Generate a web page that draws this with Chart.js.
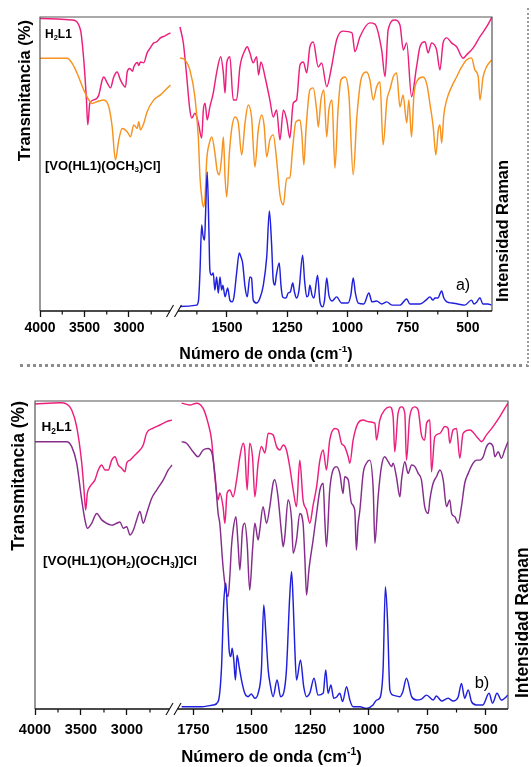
<!DOCTYPE html>
<html>
<head>
<meta charset="utf-8">
<script src="https://cdn.jsdelivr.net/npm/chart.js@4/dist/chart.umd.min.js"></script>
<style>
  html, body { margin: 0; padding: 0; background: #fff; }
  body { width: 531px; height: 767px; position: relative; overflow: hidden; }
  canvas { position: absolute; left: 0; }
  #panelA { top: 0; }
  #panelB { top: 380px; }
  .frame-a { position: absolute; left: 20px; top: 8px; width: 507px; height: 356px;
             border-right: 2px dotted #9a9a9a; border-bottom: 3px dotted #8c8c8c; }
</style>
</head>
<body>
<div class="frame-a"></div>
<canvas id="panelA" width="531" height="365"></canvas>
<canvas id="panelB" width="531" height="387"></canvas>
<script>
const FONT = '"Liberation Sans", Arial, Helvetica, sans-serif';
const PINK = '#ec1f7d';
const ORANGE = '#f7931e';
const PURPLE = '#852d8c';
const BLUE = '#2020dc';

// ---- a) H2L1 and [VO(HL1)(OCH3)Cl] ----
// [wavenumber cm-1, transmittance / intensity (arbitrary, 0-100)]
const ligandHighA = [[4000,99.5],[3638,99],[3545,95.6],[3508,85.4],[3478,71.8],[3463,63.3],[3440,70.7],[3396,71.8],[3339,73.5],[3301,78.6],[3283,79.6],[3245,77.6],[3208,75.9],[3171,79.6],[3133,81.3],[3096,78.6],[3039,76.2],[3020,81.3],[2990,82.5],[2960,81.5],[2946,83],[2905,84.5],[2890,83.5],[2871,84.7],[2834,84.4],[2796,87.8],[2760,89.5],[2721,91.2],[2690,91.5],[2646,92.9],[2600,93.5],[2534,94.6]];
const complexHighA = [[4000,86],[3694,86],[3638,84.2],[3582,80.8],[3508,75.2],[3452,71.8],[3414,70.6],[3357,71.2],[3283,71.8],[3227,69.5],[3189,62.7],[3152,51.4],[3114,58.2],[3077,62.1],[3020,61],[2983,59.3],[2946,63.3],[2908,62.1],[2890,64.4],[2871,61.6],[2834,63.8],[2796,67.8],[2721,71.8],[2646,73.5],[2534,76.9]];
const ligandLowA = [[1695,96.6],[1681,91.1],[1667,79.7],[1654,68.4],[1646,65.6],[1633,67.3],[1619,64.0],[1605,58.8],[1598,68.4],[1591,70.7],[1582,65.0],[1571,69.4],[1557,74.1],[1543,81.0],[1526,86.5],[1515,81.0],[1508,74.1],[1501,84.4],[1488,86.5],[1474,71.8],[1460,71.8],[1446,83.1],[1425,88.8],[1416,89.9],[1405,87.8],[1391,84.4],[1377,86.5],[1369,80.3],[1359,84.7],[1342,79.6],[1322,71.8],[1308,66.0],[1294,68.4],[1280,58.2],[1266,68.4],[1252,65.0],[1239,58.8],[1225,70.7],[1211,71.8],[1197,83.7],[1183,84.7],[1169,81.0],[1156,89.8],[1142,91.5],[1121,83.0],[1107,84.4],[1086,76.3],[1066,83.0],[1045,92.2],[1019,95.2],[981,94.6],[969,88.2],[948,93.3],[907,98.0],[886,97.6],[858,88.8],[844,79.7],[831,95.6],[803,99.0],[782,97.3],[768,88.8],[754,91.2],[734,72.9],[713,83.1],[699,89.9],[678,91.6],[665,87.8],[651,91.2],[630,88.8],[616,82.0],[603,91.2],[588,92.9],[568,91.2],[547,89.9],[520,86.0],[506,87.1],[478,89.5],[450,93.3],[422,96.7],[400,100]];
const complexLowA = [[1695,86.1],[1674,85.4],[1654,82.0],[1633,72.8],[1619,59.2],[1612,45.6],[1605,38.8],[1598,35.4],[1591,38.8],[1584,51.4],[1573,57.1],[1563,59.2],[1550,53.7],[1541,47.9],[1532,46.3],[1522,52.4],[1515,59.2],[1508,45.6],[1501,38.8],[1490,53.7],[1480,62.2],[1467,66.0],[1453,64.0],[1439,53.1],[1425,64.0],[1412,70.1],[1398,66.0],[1384,49.0],[1370,61.6],[1356,66.7],[1346,63.3],[1335,52.4],[1322,58.2],[1308,59.9],[1294,51.4],[1280,39.5],[1266,36.1],[1252,45.2],[1239,45.2],[1228,54.8],[1214,64.3],[1197,65.0],[1189,59.9],[1181,49.7],[1172,61.6],[1156,75.2],[1142,75.9],[1128,68.4],[1121,62.6],[1110,71.8],[1098,75.2],[1086,59.2],[1077,68.4],[1064,71.8],[1052,48.6],[1039,68.4],[1027,78.6],[1010,79.6],[994,73.5],[976,46.3],[961,66.0],[941,79.6],[920,81.3],[907,78.6],[893,71.8],[879,76.2],[865,77.9],[852,56.5],[836,71.8],[824,75.2],[810,79.6],[796,81.0],[782,69.4],[769,73.5],[754,64.0],[745,71.8],[734,59.2],[724,73.5],[708,78.6],[686,79.6],[670,76.9],[658,70.7],[644,62.6],[633,53.1],[623,61.6],[616,63.3],[609,57.1],[600,66.7],[588,71.8],[568,76.2],[547,79.6],[526,83.0],[506,85.4],[485,86.1],[471,82.0],[457,79.6],[450,71.8],[437,79.6],[423,83.0],[402,85.4]];
const ramanA = [[1695,1.5],[1626,2.0],[1618,3.7],[1612,13.3],[1605,29.3],[1600,25.9],[1593,24.1],[1589,32.7],[1582,47.3],[1575,27.6],[1571,13.9],[1564,12.2],[1557,12.9],[1550,7.1],[1543,11.6],[1536,6.1],[1529,11.6],[1522,7.1],[1517,8.8],[1508,4.8],[1497,7.8],[1488,3.7],[1479,3.1],[1471,4.8],[1460,12.9],[1449,19.7],[1442,18.4],[1435,16.3],[1425,8.2],[1416,4.8],[1405,11.6],[1398,11.2],[1391,3.7],[1377,2.7],[1363,4.4],[1349,8.8],[1335,18.4],[1324,34.0],[1315,23.1],[1308,10.5],[1301,8.8],[1295,12.2],[1283,16.3],[1276,8.8],[1269,4.8],[1255,4.4],[1246,6.1],[1237,6.5],[1227,9.5],[1220,6.5],[1211,4.4],[1201,7.1],[1186,19.0],[1178,10.5],[1169,4.8],[1162,5.4],[1156,8.8],[1147,5.4],[1139,4.4],[1124,12.2],[1114,3.1],[1103,1.4],[1095,3.7],[1086,11.2],[1077,5.4],[1064,3.4],[1045,4.8],[1024,2.7],[998,2.7],[986,5.4],[976,11.2],[967,6.1],[955,2.7],[932,2.4],[911,6.1],[898,3.1],[879,3.4],[857,2.4],[837,3.1],[815,2.0],[782,2.0],[754,4.1],[741,2.4],[699,2.4],[674,3.7],[658,4.8],[645,3.7],[637,4.4],[625,4.4],[609,6.8],[600,4.4],[587,3.1],[566,2.7],[542,2.4],[513,2.0],[485,3.7],[475,2.4],[463,3.1],[450,4.5],[438,2.4],[417,2.4],[402,2.0]];

// ---- b) H2L1 and [VO(HL1)(OH2)(OCH3)]Cl ----
const ligandHighB = [[4000,99],[3728,99.4],[3655,99.0],[3601,97.1],[3547,91.7],[3492,79.9],[3467,71.1],[3449,64.6],[3431,70.1],[3402,72.2],[3348,74.4],[3312,77.6],[3275,79.2],[3239,77.6],[3203,77.6],[3166,80.8],[3130,81.9],[3095,79.2],[3058,78.2],[3022,77.0],[3003,79.9],[2967,80.8],[2913,82.5],[2877,83.5],[2823,85.7],[2786,89.6],[2714,91.2],[2641,92.2],[2568,93.3],[2510,93.8]];
const complexHighB = [[4000,86.8],[3655,86.8],[3601,85.2],[3547,79.9],[3492,67.9],[3457,61.4],[3431,58.7],[3384,60.3],[3329,63.5],[3275,61.4],[3221,60.3],[3166,59.7],[3112,60.3],[3076,60.7],[3040,58.7],[3003,59.2],[2967,56.5],[2930,58.1],[2895,61.4],[2859,64.1],[2823,60.3],[2786,63.5],[2731,68.4],[2677,71.1],[2605,74.4],[2551,77.6],[2510,79.2]];
const ligandLowB = [[1800,99.3],[1765,98.7],[1736,99.3],[1708,97.6],[1687,92.8],[1672,87.3],[1658,75.4],[1644,67.9],[1637,70.1],[1623,65.7],[1615,60.3],[1606,70.0],[1594,71.1],[1580,68.9],[1565,74.4],[1551,81.9],[1537,86.3],[1530,84.1],[1520,71.1],[1509,86.3],[1497,81.9],[1487,68.9],[1473,79.8],[1459,85.2],[1444,83.1],[1430,89.5],[1409,89.0],[1394,85.2],[1380,84.1],[1366,85.7],[1352,84.1],[1338,78.7],[1323,71.1],[1309,65.7],[1295,80.8],[1281,67.9],[1266,64.6],[1252,60.3],[1238,66.2],[1223,72.2],[1209,80.8],[1195,84.1],[1181,77.6],[1167,87.3],[1145,91.1],[1131,90.6],[1117,86.3],[1103,85.2],[1088,81.9],[1081,79.8],[1067,87.3],[1046,92.8],[1024,93.8],[1003,93.3],[974,92.8],[967,87.3],[953,93.8],[932,97.1],[910,98.1],[896,94.9],[889,83.5],[875,96.0],[860,98.1],[846,96.0],[839,80.8],[825,94.9],[803,98.1],[789,97.1],[775,89.0],[761,87.3],[753,92.8],[739,93.8],[732,77.0],[718,88.4],[696,89.5],[675,91.7],[661,91.1],[654,86.3],[640,90.6],[625,91.1],[611,81.4],[597,89.5],[568,90.6],[533,87.9],[518,86.8],[497,89.0],[469,91.7],[440,94.9],[419,97.6],[405,99.3]];
const complexLowB = [[1800,86.8],[1779,86.3],[1751,83.5],[1730,81.9],[1708,84.1],[1687,84.6],[1672,83.5],[1658,76.5],[1644,63.5],[1637,60.3],[1623,46.2],[1611,38.6],[1601,36.5],[1594,43.0],[1587,52.7],[1580,58.1],[1568,62.4],[1559,53.8],[1551,45.1],[1540,58.1],[1530,60.3],[1520,53.8],[1509,38.6],[1497,51.6],[1487,60.3],[1473,54.9],[1466,58.1],[1452,65.7],[1437,60.3],[1423,65.7],[1409,73.3],[1402,74.4],[1388,68.9],[1373,57.0],[1366,52.7],[1359,55.9],[1345,67.9],[1330,61.4],[1323,50.6],[1309,54.9],[1295,63.5],[1281,60.3],[1273,48.4],[1266,37.0],[1256,45.1],[1238,54.9],[1223,63.5],[1209,71.1],[1195,73.3],[1188,61.4],[1181,52.7],[1167,71.1],[1153,77.6],[1138,78.7],[1124,76.5],[1110,70.0],[1103,75.4],[1088,74.4],[1074,66.8],[1060,64.6],[1053,51.6],[1046,59.7],[1038,64.6],[1024,76.5],[1010,79.8],[996,80.8],[981,71.1],[974,53.8],[960,68.9],[946,78.7],[932,81.9],[917,80.3],[903,78.7],[896,79.8],[882,75.4],[867,68.9],[860,74.4],[846,80.3],[832,76.5],[817,79.2],[803,78.7],[789,76.5],[775,74.4],[761,65.7],[746,63.5],[739,67.9],[725,73.3],[711,75.4],[696,77.6],[682,74.4],[668,65.7],[654,67.9],[646,63.5],[632,62.4],[618,60.3],[604,65.7],[590,73.3],[575,76.5],[554,79.8],[540,80.8],[525,80.8],[511,81.9],[497,85.2],[483,86.3],[469,85.2],[461,81.9],[447,83.5],[433,81.4],[419,84.1],[405,86.8]];
const ramanB = [[1800,0.7],[1722,0.7],[1665,1.3],[1644,2.4],[1630,12.7],[1620,34.3],[1611,40.8],[1604,31.1],[1597,19.2],[1590,17.0],[1584,19.7],[1577,15.9],[1570,9.4],[1563,17.5],[1554,13.7],[1544,9.4],[1530,5.1],[1516,4.0],[1502,4.9],[1487,3.5],[1473,5.1],[1459,12.7],[1449,33.8],[1440,24.6],[1430,12.7],[1421,7.8],[1409,4.0],[1392,9.4],[1377,4.0],[1363,5.5],[1352,12.7],[1338,36.5],[1330,44.6],[1323,34.3],[1316,19.2],[1309,9.4],[1292,15.9],[1278,7.2],[1266,4.0],[1252,5.2],[1234,10.0],[1217,4.5],[1195,5.1],[1184,12.7],[1174,5.1],[1162,7.8],[1150,3.5],[1137,3.9],[1124,5.1],[1112,2.4],[1095,7.2],[1081,2.9],[1067,0.7],[1038,0.7],[1010,0.2],[982,1.3],[967,2.9],[953,3.5],[939,12.7],[929,39.7],[920,28.9],[910,6.2],[896,4.5],[867,4.0],[855,5.5],[839,10.0],[817,4.0],[796,2.9],[775,3.2],[753,4.5],[725,2.9],[711,4.2],[689,2.6],[661,3.5],[640,2.6],[618,3.9],[604,8.3],[590,3.5],[575,6.2],[561,2.4],[540,1.3],[513,1.3],[486,5.1],[471,1.9],[452,5.1],[433,2.9],[405,4.5]];

// axis ranges and tick values
const rangeHighA = [2505, 4000];
const rangeLowA = [400, 1724];
const rangeHighB = [2505, 4000];
const rangeLowB = [405, 1839];
const ticksHigh = [4000, 3500, 3000];
const minorHigh = [3750, 3250, 2750];
const ticksLowA = [1500, 1250, 1000, 750, 500];
const ticksLowB = [1750, 1500, 1250, 1000, 750, 500];
const minorLow = [1625, 1375, 1125, 875, 625];

// text with _{sub} and ^{sup} parts
function drawRich(ctx, text, x, y, size, weight, align) {
  const parts = [];
  const re = /([_^])\{([^}]*)\}/g;
  let last = 0, m;
  while ((m = re.exec(text))) {
    if (m.index > last) parts.push({ t: text.slice(last, m.index), k: '' });
    parts.push({ t: m[2], k: m[1] });
    last = re.lastIndex;
  }
  if (last < text.length) parts.push({ t: text.slice(last), k: '' });
  const small = size * 0.62;
  let w = 0;
  for (const p of parts) {
    ctx.font = `${weight} ${p.k ? small : size}px ${FONT}`;
    p.w = ctx.measureText(p.t).width;
    w += p.w;
  }
  let cx = align === 'center' ? x - w / 2 : align === 'right' ? x - w : x;
  ctx.textAlign = 'left';
  ctx.textBaseline = 'alphabetic';
  for (const p of parts) {
    ctx.font = `${weight} ${p.k ? small : size}px ${FONT}`;
    const dy = p.k === '_' ? size * 0.22 : p.k === '^' ? -size * 0.42 : 0;
    ctx.fillText(p.t, cx, y + dy);
    cx += p.w;
  }
}

function vText(ctx, text, x, y, size, align) {
  ctx.save();
  ctx.translate(x, y);
  ctx.rotate(-Math.PI / 2);
  ctx.font = `bold ${size}px ${FONT}`;
  ctx.textAlign = align;
  ctx.textBaseline = 'middle';
  ctx.fillText(text, 0, 0);
  ctx.restore();
}

// frame, axis break, minor ticks and all labels
const decor = {
  id: 'decor',
  afterDraw(chart, args, o) {
    const { ctx, chartArea: a } = chart;
    const xH = chart.scales.xH, xLo = chart.scales.xLo;
    const cut = xH.right;
    ctx.save();

    ctx.strokeStyle = '#555';
    ctx.lineWidth = 1.2;
    ctx.beginPath();
    ctx.moveTo(a.left, a.bottom);
    ctx.lineTo(a.left, a.top);
    ctx.lineTo(a.right, a.top);
    ctx.lineTo(a.right, a.bottom);
    ctx.stroke();

    ctx.strokeStyle = '#111';
    ctx.lineWidth = 1.5;
    ctx.beginPath();
    ctx.moveTo(a.left, a.bottom);
    ctx.lineTo(cut - 3, a.bottom);
    ctx.moveTo(cut + 5, a.bottom);
    ctx.lineTo(a.right, a.bottom);
    ctx.stroke();
    ctx.lineWidth = 1.1;
    ctx.beginPath();
    for (const c of [cut - 3, cut + 5]) {
      ctx.moveTo(c - 3.5, a.bottom + 6);
      ctx.lineTo(c + 3.5, a.bottom - 6);
    }
    ctx.stroke();

    ctx.lineWidth = 1.2;
    ctx.beginPath();
    for (const [scale, values] of [[xH, minorHigh], [xLo, minorLow]]) {
      for (const v of values) {
        if (v < scale.min || v > scale.max) continue;
        const px = scale.getPixelForValue(v);
        ctx.moveTo(px, a.bottom);
        ctx.lineTo(px, a.bottom + 3.5);
      }
    }
    ctx.stroke();

    ctx.fillStyle = '#000';
    vText(ctx, 'Transmitancia (%)', o.yTitle.x, o.yTitle.y, o.yTitle.size, 'right');
    vText(ctx, 'Intensidad Raman', o.rTitle.x, o.rTitle.y, o.rTitle.size, 'left');
    drawRich(ctx, 'Número de onda (cm^{-1})', (a.left + a.right) / 2, o.xTitle.y, o.xTitle.size, 'bold', 'center');
    for (const l of o.labels) drawRich(ctx, l.text, l.x, l.y, l.size, 'bold', 'left');
    ctx.font = `${o.tag.size}px ${FONT}`;
    ctx.textAlign = 'center';
    ctx.textBaseline = 'alphabetic';
    ctx.fillText(o.tag.text, o.tag.x, o.tag.y);
    ctx.restore();
  }
};

function line(data, xAxisID, yAxisID, color) {
  return { data, xAxisID, yAxisID, borderColor: color, borderWidth: 1.45, pointRadius: 0,
           cubicInterpolationMode: 'monotone', fill: false, borderJoinStyle: 'round' };
}

function wnAxis(range, ticks, weight, height, pad, size) {
  return {
    type: 'linear', position: 'bottom', stack: 'wn', stackWeight: weight,
    reverse: true, min: range[0], max: range[1],
    afterBuildTicks: s => { s.ticks = ticks.map(v => ({ value: v })); },
    afterFit: s => { s.height = height; },
    border: { display: false },
    grid: { drawOnChartArea: false, drawTicks: true, tickLength: 6, tickColor: '#111', tickWidth: 1.3 },
    ticks: { autoSkip: false, maxRotation: 0, padding: pad, color: '#000',
             font: { family: FONT, size, weight: 'bold' }, callback: v => String(v) }
  };
}

function makePanel(id, p) {
  return new Chart(document.getElementById(id), {
    type: 'line',
    data: {
      datasets: [
        line(p.ramanLow, 'xLo', 'yR', BLUE),
        line(p.complexHigh, 'xH', 'y', p.complexColor),
        line(p.complexLow, 'xLo', 'y', p.complexColor),
        line(p.ligandHigh, 'xH', 'y', PINK),
        line(p.ligandLow, 'xLo', 'y', PINK)
      ]
    },
    options: {
      responsive: false,
      animation: false,
      events: [],
      layout: { padding: p.padding },
      plugins: { legend: { display: false }, tooltip: { enabled: false }, decor: p.decor },
      scales: {
        xH: wnAxis(p.rangeHigh, ticksHigh, p.weights[0], p.axisHeight, p.tickPad, p.tickSize),
        xLo: wnAxis(p.rangeLow, p.ticksLow, p.weights[1], p.axisHeight, p.tickPad, p.tickSize),
        y: { display: false, min: 0, max: 100 },
        yR: { display: false, min: 0, max: 100 }
      }
    },
    plugins: [decor]
  });
}

makePanel('panelA', {
  ligandHigh: ligandHighA, ligandLow: ligandLowA,
  complexHigh: complexHighA, complexLow: complexLowA, ramanLow: ramanA,
  complexColor: ORANGE,
  rangeHigh: rangeHighA, rangeLow: rangeLowA, ticksLow: ticksLowA,
  weights: [133, 319],
  padding: { left: 40, right: 39, top: 17, bottom: 0 },
  axisHeight: 54, tickPad: 3, tickSize: 14,
  decor: {
    yTitle: { x: 25.5, y: 20, size: 16.5 },
    rTitle: { x: 503, y: 302, size: 16.5 },
    xTitle: { y: 358.5, size: 16 },
    labels: [
      { text: 'H_{2}L1', x: 45, y: 37.5, size: 12 },
      { text: '[VO(HL1)(OCH_{3})Cl]', x: 45, y: 169.5, size: 13 }
    ],
    tag: { text: 'a)', x: 463, y: 289.5, size: 16 }
  }
});

makePanel('panelB', {
  ligandHigh: ligandHighB, ligandLow: ligandLowB,
  complexHigh: complexHighB, complexLow: complexLowB, ramanLow: ramanB,
  complexColor: PURPLE,
  rangeHigh: rangeHighB, rangeLow: rangeLowB, ticksLow: ticksLowB,
  weights: [137.5, 335.5],
  padding: { left: 35, right: 23, top: 21, bottom: 0 },
  axisHeight: 58, tickPad: 6, tickSize: 14.5,
  decor: {
    yTitle: { x: 19.5, y: 21, size: 17.5 },
    rTitle: { x: 523, y: 318, size: 17.5 },
    xTitle: { y: 382, size: 16.7 },
    labels: [
      { text: 'H_{2}L1', x: 41.5, y: 51, size: 13.5 },
      { text: '[VO(HL1)(OH_{2})(OCH_{3})]Cl', x: 43, y: 185, size: 13.5 }
    ],
    tag: { text: 'b)', x: 482, y: 308, size: 16.5 }
  }
});
</script>
</body>
</html>
